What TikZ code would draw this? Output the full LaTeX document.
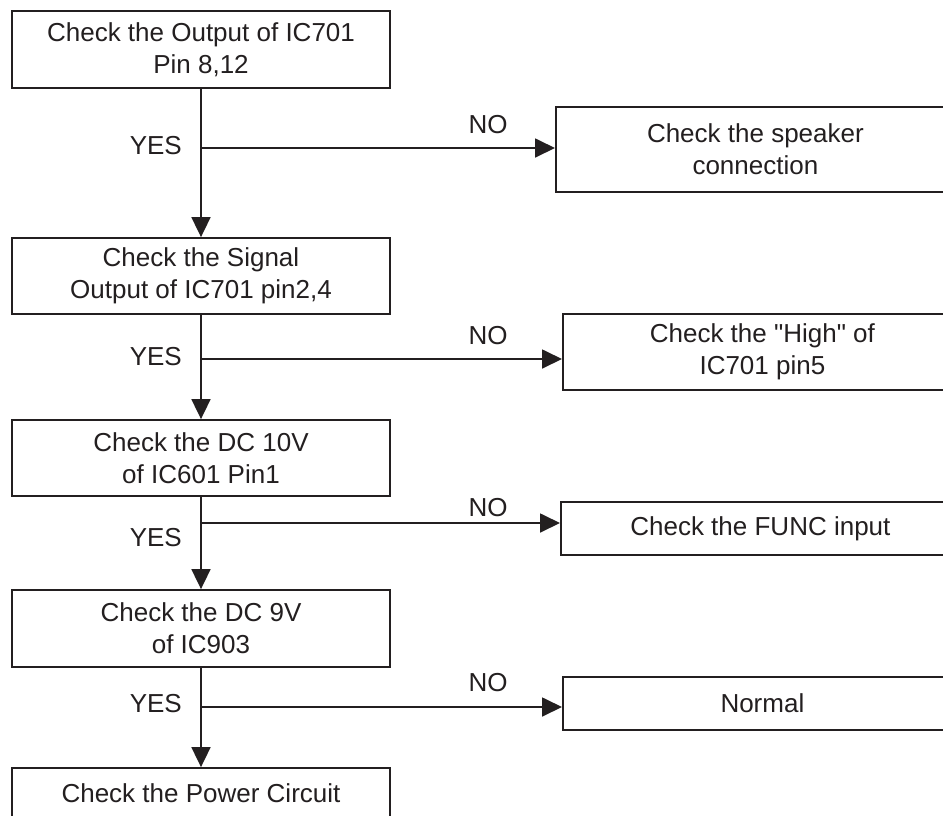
\documentclass[tikz,border=0pt]{standalone}
\usepackage{fontspec}
\setmainfont{Liberation Sans}[Ligatures=TeXOff]
\usetikzlibrary{arrows.meta}
\definecolor{ink}{RGB}{35,31,32}
\begin{document}
\begin{tikzpicture}[x=1pt,y=-1pt,
  font=\fontsize{26}{32}\selectfont,
  box/.style={draw=ink, line width=1.8pt, text=ink, align=center, inner sep=0pt,
    minimum width=378pt, minimum height=77pt},
  rbox/.style={draw=ink, line width=1.8pt, text=ink, align=center, inner sep=0pt,
    minimum width=399pt, anchor=west},
  arr/.style={draw=ink, line width=1.8pt, -{Triangle[length=20pt,width=19pt]}},
  lbl/.style={text=ink, inner sep=0pt}]
\useasboundingbox (0,0) rectangle (943,815);
\clip (0,0) rectangle (943,815);
\fill[white] (0,0) rectangle (943,815);

% main column
\node[box] (b1) at (201,49.5) {Check the Output of IC701\\Pin 8,12};
\node[box, minimum height=76pt] (b2) at (201,276) {Check the Signal\\Output of IC701 pin2,4};
\node[box, minimum height=76pt] (b3) at (201,458) {Check the DC 10V\\of IC601 Pin1};
\node[box] (b4) at (201,628.5) {Check the DC 9V\\of IC903};
\node[box, minimum height=50pt] (b5) at (201,793) {Check the Power Circuit};

% right column
\node[rbox, minimum height=85pt] (r1) at (555,149.5) {Check the speaker\\connection};
\node[rbox, minimum height=76pt] (r2) at (562,352) {Check the "High" of\\IC701 pin5};
\node[rbox, minimum height=53pt] (r3) at (560,528.5) {Check the FUNC input};
\node[rbox, minimum height=53pt] (r4) at (562,703.5) {Normal};

% branch points
\coordinate (t1) at (201,148);
\coordinate (t2) at (201,359);
\coordinate (t3) at (201,523);
\coordinate (t4) at (201,707);

% trunk
\draw[arr] (b1.south) -- (b2.north);
\draw[arr] (b2.south) -- (b3.north);
\draw[arr] (b3.south) -- (b4.north);
\draw[arr] (b4.south) -- (b5.north);

% NO branches
\draw[arr] (t1) -- (t1 -| r1.west);
\draw[arr] (t2) -- (t2 -| r2.west);
\draw[arr] (t3) -- (t3 -| r3.west);
\draw[arr] (t4) -- (t4 -| r4.west);

% labels
\node[lbl, anchor=east] (y1) at (182,146) {YES};
\node[lbl, anchor=east] (y2) at (182,357) {YES};
\node[lbl, anchor=east] (y3) at (182,538) {YES};
\node[lbl, anchor=east] (y4) at (182,704) {YES};
\node[lbl] (n1) at (488,125) {NO};
\node[lbl] (n2) at (488,336) {NO};
\node[lbl] (n3) at (488,508) {NO};
\node[lbl] (n4) at (488,683) {NO};
\end{tikzpicture}
\end{document}
